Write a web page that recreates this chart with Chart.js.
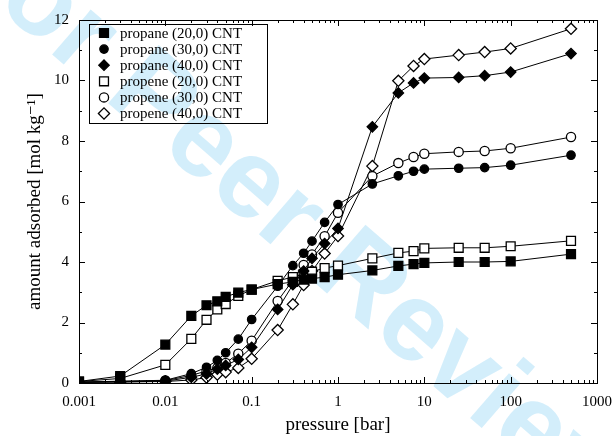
<!DOCTYPE html>
<html>
<head>
<meta charset="utf-8">
<script src="https://cdn.jsdelivr.net/npm/chart.js@4"></script>
<style>
  html, body { margin: 0; padding: 0; background: #fff; }
  #wrap { width: 616px; height: 436px; }
</style>
</head>
<body>
<div id="wrap"><canvas id="chart" width="616" height="436"></canvas></div>
<script>
// Data (pressure in bar, amount in mol/kg)
const pressure = [0.001, 0.003, 0.01, 0.02, 0.03, 0.04, 0.05, 0.07, 0.1, 0.2, 0.3, 0.4, 0.5, 0.7, 1, 2.5, 5, 7.5, 10, 25, 50, 100, 500];
const propane20 = [0.05, 0.23, 1.27, 2.22, 2.57, 2.70, 2.85, 2.99, 3.09, 3.27, 3.34, 3.42, 3.45, 3.50, 3.58, 3.72, 3.87, 3.93, 3.97, 4.00, 4.00, 4.02, 4.26];
const propane30 = [0.03, 0.06, 0.09, 0.31, 0.52, 0.75, 1.00, 1.45, 2.10, 3.20, 3.88, 4.29, 4.69, 5.31, 5.90, 6.58, 6.85, 7.00, 7.07, 7.10, 7.12, 7.20, 7.53];
const propane40 = [0.02, 0.04, 0.06, 0.19, 0.30, 0.46, 0.58, 0.78, 1.18, 2.43, 3.25, 3.70, 4.12, 4.61, 5.11, 8.47, 9.59, 9.92, 10.08, 10.10, 10.16, 10.28, 10.89];
const propene20 = [0.05, 0.15, 0.60, 1.46, 2.09, 2.43, 2.61, 2.88, 3.09, 3.38, 3.50, 3.60, 3.68, 3.80, 3.88, 4.12, 4.30, 4.36, 4.45, 4.47, 4.47, 4.52, 4.70];
const propene30 = [0.03, 0.05, 0.08, 0.25, 0.40, 0.50, 0.66, 0.97, 1.40, 2.71, 3.40, 3.90, 4.25, 4.85, 5.63, 6.84, 7.27, 7.47, 7.58, 7.64, 7.67, 7.76, 8.13];
const propene40 = [0.02, 0.03, 0.05, 0.10, 0.18, 0.28, 0.36, 0.50, 0.80, 1.75, 2.60, 3.24, 3.70, 4.28, 4.86, 7.17, 9.99, 10.48, 10.71, 10.84, 10.94, 11.06, 11.71];

const seriesNames = ['propane (20,0) CNT', 'propane (30,0) CNT', 'propane (40,0) CNT',
                     'propene (20,0) CNT', 'propene (30,0) CNT', 'propene (40,0) CNT'];
const xTickLabels = [0.001, 0.01, 0.1, 1, 10, 100, 1000];
const yTickLabels = [0, 2, 4, 6, 8, 10, 12];

const serif = '"Liberation Serif", "DejaVu Serif", serif';

function pts(ys){ return pressure.map((p, i) => ({x: p, y: ys[i]})); }

// marker styles per series
const markers = [
  {style: 'rect',    radius: 6.3, fill: '#000'},
  {style: 'circle',  radius: 4.2, fill: '#000'},
  {style: 'rectRot', radius: 5.2, fill: '#000'},
  {style: 'rect',    radius: 6.3, fill: '#fff'},
  {style: 'circle',  radius: 4.6, fill: '#fff'},
  {style: 'rectRot', radius: 5.6, fill: '#fff'},
];
const allSeries = [propane20, propane30, propane40, propene20, propene30, propene40];

const datasets = allSeries.map((ys, i) => ({
  label: seriesNames[i],
  data: pts(ys),
  borderColor: '#000',
  borderWidth: 1,
  pointStyle: markers[i].style,
  pointRadius: markers[i].radius,
  pointBackgroundColor: markers[i].fill,
  pointBorderColor: '#000',
  pointBorderWidth: 1.3,
  tension: 0,
  order: i < 3 ? 0 : 1,
}));

// faint "For Peer Review" watermark behind everything
const watermark = {
  id: 'watermark',
  beforeDraw(chart){
    const ctx = chart.ctx;
    ctx.save();
    ctx.fillStyle = '#fff';
    ctx.fillRect(0, 0, chart.width, chart.height);
    ctx.translate(292, 222);
    ctx.rotate(41 * Math.PI / 180);
    ctx.font = 'bold 112px "Liberation Sans", Arial, sans-serif';
    ctx.fillStyle = 'rgba(150, 215, 245, 0.42)';
    ctx.textAlign = 'center';
    ctx.textBaseline = 'middle';
    ctx.fillText('For Peer Review', 0, 0);
    ctx.restore();
  }
};

// frame and inward tick marks on all four sides
const frameTicks = {
  id: 'frameTicks',
  afterDraw(chart){
    const {ctx, chartArea: a, scales: {x, y}} = chart;
    ctx.save();
    ctx.strokeStyle = '#000';
    ctx.lineWidth = 1;
    ctx.strokeRect(a.left + 0.5, a.top + 0.5, a.right - a.left, a.bottom - a.top);
    ctx.beginPath();
    // x ticks: decades major, 2..9 minor
    for (let e = -3; e <= 3; e++){
      for (let m = 1; m <= 9; m++){
        const v = m * Math.pow(10, e);
        if (v > 1000.0001) break;
        const px = Math.round(x.getPixelForValue(v)) + 0.5;
        const len = m === 1 ? 6 : 3;
        ctx.moveTo(px, a.bottom); ctx.lineTo(px, a.bottom - len);
        ctx.moveTo(px, a.top); ctx.lineTo(px, a.top + len);
      }
    }
    // y ticks: every 2 major, odd minor
    for (let v = 0; v <= 12; v++){
      const py = Math.round(y.getPixelForValue(v)) + 0.5;
      const len = v % 2 === 0 ? 6 : 3;
      ctx.moveTo(a.left, py); ctx.lineTo(a.left + len, py);
      ctx.moveTo(a.right, py); ctx.lineTo(a.right - len, py);
    }
    ctx.stroke();

    // legend box in the upper left
    const bx = 89, by = 24, bw = 178, bh = 99;
    ctx.strokeRect(bx + 0.5, by + 0.5, bw, bh);
    ctx.font = '15px ' + serif;
    ctx.fillStyle = '#000';
    ctx.textBaseline = 'middle';
    chart.data.datasets.forEach((ds, i) => {
      const ry = by + 9 + i * 16.1;
      ctx.save();
      ctx.lineWidth = 1.3;
      ctx.fillStyle = ds.pointBackgroundColor;
      ctx.strokeStyle = '#000';
      Chart.helpers.drawPoint(ctx, {pointStyle: ds.pointStyle, radius: ds.pointRadius, borderWidth: 1.3}, 104, ry);
      ctx.restore();
      ctx.fillText(ds.label, 120, ry + 1);
    });
    ctx.restore();
  }
};

new Chart(document.getElementById('chart'), {
  type: 'line',
  data: { datasets },
  plugins: [watermark, frameTicks],
  options: {
    responsive: false,
    animation: false,
    layout: { padding: { top: 20, right: 19, left: 0, bottom: 0 } },
    plugins: { legend: { display: false }, tooltip: { enabled: false } },
    scales: {
      x: {
        type: 'logarithmic',
        min: 0.001, max: 1000,
        grid: { display: false, drawTicks: false },
        border: { display: false },
        afterBuildTicks: s => { s.ticks = xTickLabels.map(v => ({value: v})); },
        afterFit: s => { s.height = 53; s.paddingLeft = 0; s.paddingRight = 0; },
        ticks: {
          color: '#000', padding: 10, maxRotation: 0,
          font: { family: serif, size: 15 },
          callback: v => String(v),
        },
        title: {
          display: true, text: 'pressure [bar]', color: '#000',
          font: { family: serif, size: 19 }, padding: { top: 0, bottom: 0 },
        },
      },
      y: {
        min: 0, max: 12,
        grid: { display: false, drawTicks: false },
        border: { display: false },
        afterBuildTicks: s => { s.ticks = yTickLabels.map(v => ({value: v})); },
        afterFit: s => { s.width = 79; s.paddingTop = 0; s.paddingBottom = 0; },
        ticks: {
          color: '#000', padding: 10,
          font: { family: serif, size: 15 },
        },
        title: {
          display: true, text: 'amount adsorbed [mol kg\u207B\u00B9]', color: '#000',
          font: { family: serif, size: 19 }, padding: { top: 24, bottom: 0 },
        },
      },
    },
  },
});
</script>
</body>
</html>
